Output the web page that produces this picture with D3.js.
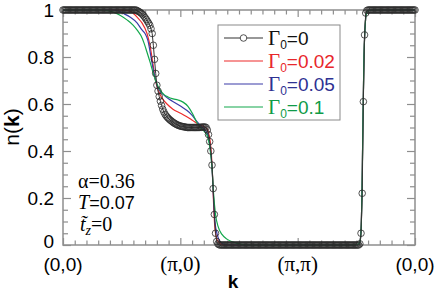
<!DOCTYPE html>
<html><head><meta charset="utf-8">
<script src="https://cdn.jsdelivr.net/npm/d3@7/dist/d3.min.js"></script>
<style>body{margin:0;background:#fff}svg{display:block}</style>
</head><body><svg id="c" width="436" height="293"></svg>
<script>
// ---------- data ----------
const xTickLabels = ["(0,0)", "(π,0)", "(π,π)", "(0,0)"];
const xTickPos = [0, 1, 2, 3];
const yTicks = [0, 0.2, 0.4, 0.6, 0.8, 1];
const seriesNames = ["0", "0.02", "0.05", "0.1"];
const seriesColors = ["#333333", "#ee2b2b", "#3b3ba8", "#13a84c"];
const textColors = ["#111111", "#e8262b", "#2e3192", "#0f9b48"];
const annotations = ["α=0.36", "T=0.07", "t̃z=0"];

// Gamma0 = 0 : sampled on k = 0, 0.01, ..., 3.00 (301 points)
const nBlack = [
  1,1,1,1,1,1,1,1,1,1, 1,1,1,1,1,1,1,1,1,1, 1,1,1,1,1,1,1,1,1,1,
  1,1,1,1,1,1,1,1,1,1, 1,1,1,1,1,1,1,1,1,1, 1,1,1,1,1,1,1,1,1,1,
  1,1,1,
  0.998,0.995,0.992,0.989,0.985,0.98,0.974,0.967,0.96,0.952,0.944,0.935,0.92,0.9,0.85,0.79,0.73,
  0.68,0.655,0.632,0.612,0.594,0.578,0.566,0.556,0.549,0.543,
  0.538,0.533,0.529,0.525,0.521,0.518,0.515,0.512,0.51,0.508,
  0.506,0.505,0.504,0.503,0.502,0.501,0.5,0.5,0.5,0.5,
  0.5,0.5,0.5,0.5,0.5,0.5,0.5,0.501,0.501,0.502,
  0.502,0.502,0.5,0.49,0.47,0.44,0.4,0.34,0.24,0.13,
  0.05,0.015,0.005,0.001,
  0,0,0,0,0,0,0,0,0,0, 0,0,0,0,0,0,0,0,0,0, 0,0,0,0,0,0,0,0,0,0,
  0,0,0,0,0,0,0,0,0,0, 0,0,0,0,0,0,0,0,0,0, 0,0,0,0,0,0,0,0,0,0,
  0,0,0,0,0,0,0,0,0,0, 0,0,0,0,0,0,0,0,0,0, 0,0,0,0,0,0,0,0,0,0,
  0,0,0,0,0,0,0,0,0,0, 0,0,0,0,0,0,0,0,0,0, 0,0,0,0,0,0,0,0,0,
  0.005,0.05,0.22,0.61,0.894,0.987,0.998,
  1,1,1,1,1,1,1,1,1,1, 1,1,1,1,1,1,1,1,1,1, 1,1,1,1,1,1,1,1,1,1,
  1,1,1,1,1,1,1,1,1,1, 1
];
const kBlack = nBlack.map((_, i) => i / 100);

const kRed = [0,0.486,0.554,0.597,0.639,0.673,0.716,0.741,0.767,0.784,0.801,0.827,0.852,0.886,0.937,0.997,1.048,1.099,1.151,1.202,1.227,1.244,1.261,1.274,1.283,1.295,1.312,1.338,1.372,2.446,2.514,2.531,2.540,2.548,2.557,2.565,2.574,2.582,2.599,2.633,3];
const nRed = [1,1,0.997,0.987,0.965,0.945,0.9,0.85,0.77,0.71,0.675,0.64,0.62,0.6,0.578,0.562,0.548,0.532,0.515,0.503,0.495,0.47,0.41,0.3,0.18,0.07,0.025,0.006,0,0,0.003,0.015,0.06,0.22,0.55,0.8,0.92,0.975,0.997,1,1];

const kBlue = [0,0.418,0.469,0.503,0.571,0.631,0.673,0.699,0.724,0.750,0.776,0.801,0.827,0.861,0.886,0.929,0.972,1.014,1.057,1.099,1.142,1.176,1.210,1.236,1.253,1.270,1.283,1.295,1.317,1.338,1.372,1.406,2.446,2.514,2.531,2.540,2.548,2.557,2.565,2.574,2.582,2.599,2.633,3];
const nBlue = [1,1,0.997,0.988,0.97,0.945,0.915,0.9,0.87,0.8,0.73,0.68,0.655,0.638,0.627,0.613,0.6,0.587,0.572,0.553,0.525,0.505,0.49,0.465,0.42,0.33,0.2,0.1,0.04,0.015,0.003,0,0,0.003,0.015,0.06,0.22,0.55,0.8,0.92,0.975,0.997,1,1];

const kGreen = [0,0.315,0.384,0.435,0.486,0.545,0.597,0.639,0.665,0.690,0.716,0.741,0.767,0.793,0.827,0.861,0.895,0.938,0.980,1.023,1.065,1.108,1.142,1.176,1.210,1.236,1.253,1.270,1.283,1.300,1.321,1.355,1.398,1.449,1.509,1.577,2.446,2.514,2.531,2.540,2.548,2.557,2.565,2.574,2.582,2.599,2.633,3];
const nGreen = [1,1,0.997,0.99,0.978,0.958,0.936,0.91,0.89,0.86,0.82,0.78,0.735,0.695,0.66,0.64,0.63,0.622,0.617,0.608,0.59,0.555,0.52,0.497,0.48,0.455,0.41,0.33,0.22,0.13,0.08,0.045,0.025,0.012,0.004,0,0,0.003,0.015,0.06,0.22,0.55,0.8,0.92,0.975,0.997,1,1];

// ---------- chart ----------
const svg = d3.select("#c");
const L = 63, R = 415, T = 10, B = 245;
const x = d3.scaleLinear().domain([0, 3]).range([L, R]);
const y = d3.scaleLinear().domain([0, 1]).range([B, T]);
const axisCol = "#8e8e8e";
const sans = "'Liberation Sans', Arial, Helvetica, sans-serif";
const serif = "'Liberation Serif', 'Times New Roman', serif";

const xMinor = d3.range(0, 31).map(i => i / 10).filter(v => Math.abs(v - Math.round(v)) > 1e-6);
const yMinor = d3.range(0, 21).map(i => i / 20).filter(v => !yTicks.some(t => Math.abs(t - v) < 1e-6));

function styleAxis(g) {
  g.select(".domain").remove();
  g.selectAll(".tick line").attr("stroke", axisCol).attr("stroke-width", 1.2);
}
// bottom
svg.append("g").attr("transform", `translate(0,${B})`)
  .call(d3.axisBottom(x).tickValues(xTickPos).tickSize(-7).tickFormat("")).call(styleAxis);
svg.append("g").attr("transform", `translate(0,${B})`)
  .call(d3.axisBottom(x).tickValues(xMinor).tickSize(-4.5).tickFormat("")).call(styleAxis);
// top
svg.append("g").attr("transform", `translate(0,${T})`)
  .call(d3.axisTop(x).tickValues(xTickPos).tickSize(-7).tickFormat("")).call(styleAxis);
svg.append("g").attr("transform", `translate(0,${T})`)
  .call(d3.axisTop(x).tickValues(xMinor).tickSize(-4.5).tickFormat("")).call(styleAxis);
// left
const yl = svg.append("g").attr("transform", `translate(${L},0)`)
  .call(d3.axisLeft(y).tickValues(yTicks).tickSize(-8).tickPadding(9)
    .tickFormat(d => (d === 0 || d === 1) ? String(d) : d.toFixed(1)));
yl.call(styleAxis);
yl.selectAll(".tick text").attr("font-family", sans).attr("font-size", 19).attr("fill", "#000")
  .attr("dy", d => d === 0 ? "0.12em" : "0.32em");
svg.append("g").attr("transform", `translate(${L},0)`)
  .call(d3.axisLeft(y).tickValues(yMinor).tickSize(-5).tickFormat("")).call(styleAxis);
// right
svg.append("g").attr("transform", `translate(${R},0)`)
  .call(d3.axisRight(y).tickValues(yTicks).tickSize(-8).tickFormat("")).call(styleAxis);
svg.append("g").attr("transform", `translate(${R},0)`)
  .call(d3.axisRight(y).tickValues(yMinor).tickSize(-5).tickFormat("")).call(styleAxis);

// frame
svg.append("rect").attr("x", L).attr("y", T).attr("width", R - L).attr("height", B - T)
  .attr("fill", "none").attr("stroke", axisCol).attr("stroke-width", 1.5);

// x tick labels
xTickLabels.forEach((lab, i) => {
  const isSerif = lab.includes("π");
  svg.append("text").attr("x", x(xTickPos[i])).attr("y", 271)
    .attr("text-anchor", "middle")
    .attr("font-family", isSerif ? serif : sans)
    .attr("font-size", isSerif ? 21 : 19)
    .text(lab);
});
// axis titles
svg.append("text").attr("x", 233).attr("y", 288).attr("text-anchor", "middle")
  .attr("font-family", sans).attr("font-weight", "bold").attr("font-size", 19).text("k");
const yt = svg.append("text").attr("transform", "translate(19,127) rotate(-90)")
  .attr("text-anchor", "middle").attr("font-family", sans).attr("font-size", 21);
yt.append("tspan").text("n(");
yt.append("tspan").attr("font-weight", "bold").text("k");
yt.append("tspan").text(")");

// curves
const line = d3.line().x(d => x(d[0])).y(d => y(d[1])).curve(d3.curveMonotoneX);
const colored = [[kRed, nRed], [kBlue, nBlue], [kGreen, nGreen]];
colored.forEach(([ks, ns], i) => {
  svg.append("path").datum(ks.map((k, j) => [k, ns[j]]))
    .attr("fill", "none").attr("stroke", seriesColors[i + 1]).attr("stroke-width", 1.2)
    .attr("d", line);
});
const blackPts = kBlack.map((k, j) => [k, nBlack[j]]);
svg.append("path").datum(blackPts).attr("fill", "none").attr("stroke", seriesColors[0])
  .attr("stroke-width", 1).attr("d", d3.line().x(d => x(d[0])).y(d => y(d[1])));
svg.append("g").selectAll("circle").data(blackPts).join("circle")
  .attr("cx", d => x(d[0])).attr("cy", d => y(d[1])).attr("r", 3.3)
  .attr("fill", "none").attr("stroke", "#2a2a2a").attr("stroke-width", 0.8);

// legend
const lg = svg.append("g");
lg.append("rect").attr("x", 218).attr("y", 25).attr("width", 122).attr("height", 95)
  .attr("fill", "#fff").attr("stroke", "#8a8a8a").attr("stroke-width", 1);
seriesNames.forEach((nm, i) => {
  const yy = 38 + i * 23;
  lg.append("line").attr("x1", 224).attr("x2", 263).attr("y1", yy).attr("y2", yy)
    .attr("stroke", seriesColors[i]).attr("stroke-width", 1.2);
  if (i === 0) lg.append("circle").attr("cx", 243.5).attr("cy", yy).attr("r", 3.3)
    .attr("fill", "#fff").attr("stroke", "#2a2a2a").attr("stroke-width", 0.8);
  const t = lg.append("text").attr("x", 268).attr("y", yy + 7).attr("fill", textColors[i])
    .attr("font-family", sans).attr("font-size", 19);
  t.append("tspan").attr("font-family", serif).attr("font-size", 21).text("Γ");
  t.append("tspan").attr("font-size", 12).attr("dy", 4).text("0");
  t.append("tspan").attr("dy", -4).text("=" + nm);
});

// annotations
const a1 = svg.append("text").attr("x", 78).attr("y", 188).attr("font-family", serif).attr("font-size", 20);
a1.append("tspan").text(annotations[0]);
const a2 = svg.append("text").attr("x", 78).attr("y", 209).attr("font-family", sans).attr("font-size", 18);
a2.append("tspan").attr("font-family", serif).attr("font-style", "italic").attr("font-size", 20).text("T");
a2.append("tspan").text("=0.07");
const a3 = svg.append("text").attr("x", 80).attr("y", 231).attr("font-family", serif).attr("font-size", 20);
a3.append("tspan").attr("font-style", "italic").text("t̃");
a3.append("tspan").attr("font-style", "italic").attr("font-size", 14).attr("dy", 4).text("z");
a3.append("tspan").attr("dy", -4).text("=0");
</script></body></html>
